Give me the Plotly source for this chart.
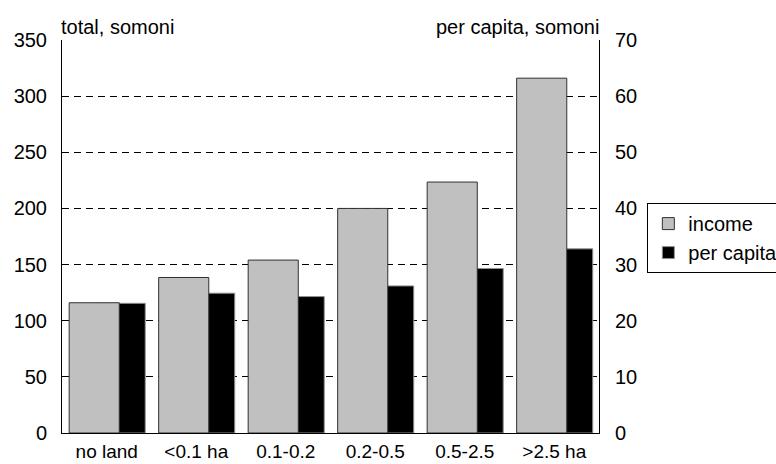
import plotly.graph_objects as go

categories = ["no land", "<0.1 ha", "0.1-0.2", "0.2-0.5", "0.5-2.5", ">2.5 ha"]
income = [116, 138.5, 154, 200, 223.5, 316]
per_capita = [23.1, 24.9, 24.3, 26.2, 29.3, 32.8]
left_ticks = [0, 50, 100, 150, 200, 250, 300, 350]
right_ticks = [0, 10, 20, 30, 40, 50, 60, 70]

FONT = "Liberation Sans, Arial, sans-serif"
FS = 20

fig = go.Figure()
# income on y2 (left side, drawn on top), per capita on y (right side)
fig.add_trace(go.Bar(
    x=categories, y=income, name="income", yaxis="y2",
    marker=dict(color="#c0c0c0", line=dict(color="#303030", width=1)),
    width=0.56, offset=-0.42,
))
fig.add_trace(go.Bar(
    x=categories, y=per_capita, name="per capita", yaxis="y",
    marker=dict(color="#000000", line=dict(color="#909090", width=1)),
    width=0.57, offset=-0.14,
))

fig.update_layout(
    width=776, height=464,
    margin=dict(l=62, r=177, t=40, b=31, autoexpand=False),
    paper_bgcolor="white", plot_bgcolor="white",
    font=dict(family=FONT, size=FS, color="black"),
    barmode="overlay",
    xaxis=dict(
        showline=True, linecolor="black", linewidth=1,
        showgrid=False, ticks="", tickfont=dict(size=19),
        ticklabelstandoff=1, automargin=False,
    ),
    yaxis=dict(
        side="right", range=[0, 70], tickvals=right_ticks,
        showgrid=False, showline=True, linecolor="black", linewidth=1,
        ticks="", zeroline=False, tickfont=dict(size=FS),
        ticklabelstandoff=11, automargin=False,
    ),
    yaxis2=dict(
        overlaying="y", side="left", range=[0, 350], tickvals=left_ticks,
        showgrid=True, gridcolor="black", gridwidth=1, griddash="7px,5px",
        showline=True, linecolor="black", linewidth=1,
        ticks="", zeroline=False, tickfont=dict(size=FS),
        ticklabelstandoff=10, automargin=False,
    ),
    legend=dict(
        x=1.09, y=0.585, xanchor="left", yanchor="top",
        bordercolor="black", borderwidth=1, bgcolor="white",
        font=dict(size=FS), itemwidth=30, tracegroupgap=0,
    ),
    annotations=[
        dict(text="total, somoni", xref="paper", yref="paper", x=0, y=1,
             xanchor="left", yanchor="bottom", showarrow=False, yshift=0,
             xshift=-3, font=dict(size=FS)),
        dict(text="per capita, somoni", xref="paper", yref="paper", x=1.003, y=1,
             xanchor="right", yanchor="bottom", showarrow=False, yshift=0,
             font=dict(size=FS)),
    ],
)

fig.write_html(
    "out.html",
    config={"displayModeBar": False},
    post_script="document.body.style.margin='0';document.body.style.overflow='hidden';",
)
